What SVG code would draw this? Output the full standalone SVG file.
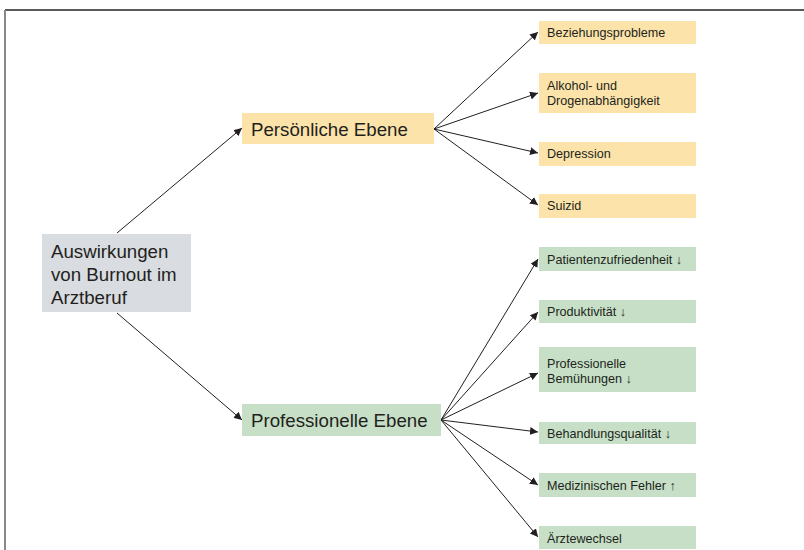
<svg xmlns="http://www.w3.org/2000/svg" width="804" height="550" viewBox="0 0 804 550">
<style>
.t{font-family:"Liberation Sans",Arial,sans-serif;fill:#231f20}
.big{font-size:18.7px}
.sm{font-size:12.6px}
.y{fill:#fbe3a9}
.g{fill:#c6dfc6}
.r{fill:#d9dce1}
.c line{stroke:#231f20;stroke-width:1;marker-end:url(#ah)}
</style>
<defs>
<marker id="ah" markerUnits="userSpaceOnUse" markerWidth="9" markerHeight="8" refX="8" refY="4" orient="auto">
<path d="M0,0 L8,4 L0,8 Z" fill="#231f20"/>
</marker>
</defs>
<rect width="804" height="550" fill="#fff"/>
<line x1="5" y1="10" x2="804" y2="10" stroke="#222" stroke-width="1.5"/>
<line x1="5" y1="10" x2="5" y2="550" stroke="#888" stroke-width="2"/>
<g class="c">
<line x1="117" y1="233" x2="242" y2="128"/>
<line x1="117" y1="313" x2="242" y2="420"/>
<line x1="434" y1="129" x2="538" y2="32"/>
<line x1="434" y1="129" x2="538" y2="93"/>
<line x1="434" y1="129" x2="538" y2="153"/>
<line x1="434" y1="129" x2="538" y2="205"/>
<line x1="441" y1="420" x2="538" y2="259"/>
<line x1="441" y1="420" x2="538" y2="312"/>
<line x1="441" y1="420" x2="538" y2="373"/>
<line x1="441" y1="420" x2="538" y2="432"/>
<line x1="441" y1="420" x2="538" y2="485"/>
<line x1="441" y1="420" x2="538" y2="537"/>
</g>
<g id="root"><rect class="r" x="42" y="234" width="149" height="78"/>
<text class="t big" x="51"><tspan x="51" y="258">Auswirkungen</tspan><tspan x="51" y="281">von Burnout im</tspan><tspan x="51" y="304">Arztberuf</tspan></text></g>
<g id="pers"><rect class="y" x="242" y="113" width="192" height="31"/><text class="t big" x="251" y="136">Persönliche Ebene</text></g>
<g id="prof"><rect class="g" x="242" y="404" width="199" height="32"/><text class="t big" x="251" y="427">Professionelle Ebene</text></g>
<g id="p1"><rect class="y" x="539" y="21" width="157" height="23"/><text class="t sm" x="547" y="37">Beziehungsprobleme</text></g>
<g id="p2"><rect class="y" x="539" y="73" width="157" height="40"/><text class="t sm"><tspan x="547" y="90">Alkohol- und</tspan><tspan x="547" y="105">Drogenabhängigkeit</tspan></text></g>
<g id="p3"><rect class="y" x="539" y="142" width="157" height="24"/><text class="t sm" x="547" y="158">Depression</text></g>
<g id="p4"><rect class="y" x="539" y="194" width="157" height="24"/><text class="t sm" x="547" y="210">Suizid</text></g>
<g id="q1"><rect class="g" x="539" y="247" width="157" height="24"/><text class="t sm" x="547" y="264">Patientenzufriedenheit ↓</text></g>
<g id="q2"><rect class="g" x="539" y="300" width="157" height="23"/><text class="t sm" x="547" y="316">Produktivität ↓</text></g>
<g id="q3"><rect class="g" x="539" y="347" width="157" height="45"/><text class="t sm"><tspan x="547" y="368">Professionelle</tspan><tspan x="547" y="383">Bemühungen ↓</tspan></text></g>
<g id="q4"><rect class="g" x="539" y="422" width="157" height="22"/><text class="t sm" x="547" y="438">Behandlungsqualität ↓</text></g>
<g id="q5"><rect class="g" x="539" y="473" width="157" height="24"/><text class="t sm" x="547" y="490">Medizinischen Fehler ↑</text></g>
<g id="q6"><rect class="g" x="539" y="526" width="157" height="23"/><text class="t sm" x="547" y="543">Ärztewechsel</text></g>
</svg>
